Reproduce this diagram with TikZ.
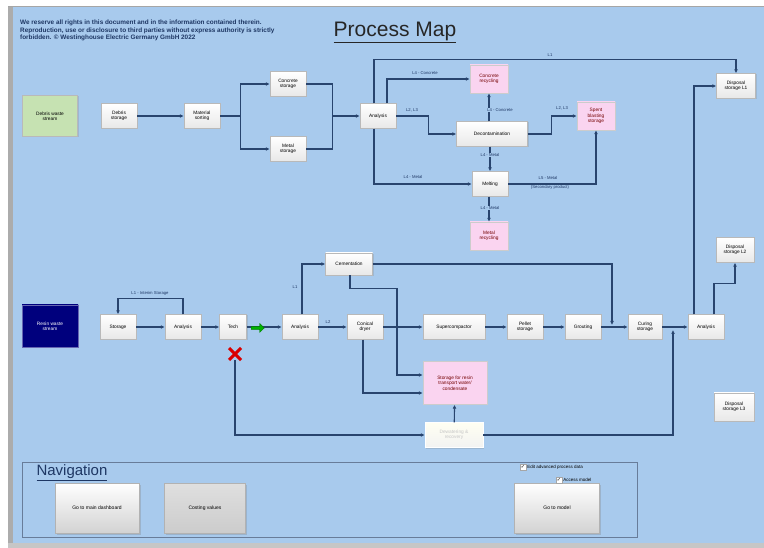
\documentclass[tikz,border=0pt]{standalone}
\usepackage{fontspec}
\setmainfont{Liberation Sans}
\newfontfamily\symfont{DejaVu Sans}
\usetikzlibrary{arrows.meta,shadows,shapes.arrows,shapes.misc}

\definecolor{mapbg}{RGB}{168,202,237}
\definecolor{mapline}{RGB}{40,68,110}
\definecolor{mappink}{RGB}{250,212,240}
\definecolor{mapgreen}{RGB}{198,226,178}
\definecolor{mapnavy}{RGB}{0,0,125}
\definecolor{maptext}{RGB}{30,55,100}

\newcommand\boxfont{\fontsize{4.8}{5.4}\selectfont}

\begin{document}
\begin{tikzpicture}[
  x=1pt, y=-1pt,
  every node/.style={font=\boxfont},
  box/.style={draw=gray!55, top color=white, bottom color=gray!18,
    minimum width=36pt, minimum height=25pt, inner sep=1pt, align=center,
    drop shadow={shadow xshift=1pt, shadow yshift=-1pt, opacity=0.25}},
  pinkbox/.style={box, top color=mappink, bottom color=mappink, draw=gray!40,
    text=red!45!black},
  flow/.style={draw=mapline, line width=1.1pt, -{Latex[length=4pt,width=3.8pt]}},
  link/.style={draw=mapline, line width=1.1pt},
  lbl/.style={font=\fontsize{4.2}{4.7}\selectfont, text=maptext, inner sep=0.5pt},
  button/.style={draw=gray!60, top color=white, bottom color=gray!35,
    minimum width=84pt, minimum height=50pt, font=\fontsize{5}{6}\selectfont,
    drop shadow={shadow xshift=1.5pt, shadow yshift=-1.5pt, opacity=0.3}},
  tickbox/.style={draw=gray!70, fill=white, minimum size=6pt, inner sep=0pt,
    font=\symfont\fontsize{5}{5}\selectfont},
]
\useasboundingbox (0,0) rectangle (764,548);
\fill[white] (0,0) rectangle (764,548);
\fill[mapbg] (8,6) rectangle (764,543);
\fill[gray!65] (8,6) rectangle (13,543);
\fill[gray!45] (8,543) rectangle (764,548);
\draw[gray!70, line width=0.8pt] (8,6) -- (764,6);

% header
\node[anchor=north west, align=left, text=maptext,
  font=\bfseries\fontsize{6.4}{7.2}\selectfont, inner sep=0pt] (note) at (20,20)
  {We reserve all rights in this document and in the information contained therein.\\
   Reproduction, use or disclosure to third parties without express authority is strictly\\
   forbidden. \textcopyright\ Westinghouse Electric Germany GmbH 2022};
\node[font=\fontsize{21}{23}\selectfont, text=black!85] (title) at (395,32)
  {\underline{Process Map}};

% debris waste stream
\node[box, top color=mapgreen, bottom color=mapgreen, minimum width=55pt,
  minimum height=41pt] (debris) at (50,116) {Debris waste\\stream};
\node[box] (dstor) at (119,116) {Debris\\storage};
\node[box] (msort) at (202,116) {Material\\sorting};
\node[box] (cstor) at (288,84) {Concrete\\storage};
\node[box] (mstor) at (288,149) {Metal\\storage};
\node[box] (ana1) at (378,116) {Analysis};
\node[pinkbox, minimum width=38pt, minimum height=28pt] (crec) at (489,79) {Concrete\\recycling};
\node[box, minimum width=71pt] (decon) at (492,134) {Decontamination};
\node[pinkbox, minimum width=38pt, minimum height=28pt] (spent) at (596,116) {Spent\\blasting\\storage};
\node[box] (melt) at (490,184) {Melting};
\node[pinkbox, minimum width=38pt, minimum height=28pt] (mrec) at (489,236) {Metal\\recycling};
\node[box, minimum width=39pt] (disp1) at (736,86) {Disposal\\storage L1};

\draw[flow] (dstor) -- (msort);
\draw[link] (msort.east) -- ++(20,0) coordinate (split);
\draw[flow] (split) |- (cstor.west);
\draw[flow] (split) |- (mstor.west);
\draw[link] (cstor.east) -- ++(26,0) coordinate (join) |- (mstor.east);
\draw[flow] (join |- ana1) -- (ana1);

\draw[flow] ([xshift=-4pt]ana1.north) -- ++(0,-44) -| (disp1.north);
\draw[flow] ([xshift=-4pt]ana1.south) |- (melt.west);
\draw[flow] ([xshift=9pt]ana1.north) |- (crec.west);
\draw[flow] (ana1.east) -- ++(32,0) |- (decon.west);
\draw[flow] (decon.north -| crec.south) -- (crec.south);
\draw[flow] (decon.east) -- ++(24,0) |- (spent.west);
\draw[flow] (decon.south -| melt.north) -- (melt.north);
\draw[flow] (melt.east) -| (spent.south);
\draw[flow] (melt.south -| mrec.north) -- (mrec.north);

\node[lbl] at (550,55) {L1};
\node[lbl] at (425,73) {L4 - Concrete};
\node[lbl] at (412,110) {L2, L3};
\node[lbl, fill=mapbg] at (500,110) {L4 - Concrete};
\node[lbl] at (562,108) {L2, L3};
\node[lbl, fill=mapbg] at (490,155) {L4 - Metal};
\node[lbl] at (413,177) {L4 - Metal};
\node[lbl] at (548,178) {L5 - Metal};
\node[lbl] at (550,187) {(Secondary product)};
\node[lbl, fill=mapbg] at (490,208) {L4 - Metal};

% resin waste stream
\node[box, top color=mapnavy, bottom color=mapnavy, draw=mapnavy!60, text=white,
  minimum width=56pt, minimum height=42pt] (resin) at (50,326) {Resin waste\\stream};
\node[box] (stor) at (118,327) {Storage};
\node[box] (ana2) at (183,327) {Analysis};
\node[box, minimum width=27pt] (tech) at (233,327) {Tech};
\node[box] (ana3) at (300,327) {Analysis};
\node[box, minimum width=47pt, minimum height=22pt] (cem) at (349,264) {Cementation};
\node[box] (cdry) at (365,327) {Conical\\dryer};
\node[box, minimum width=62pt] (supc) at (454,327) {Supercompactor};
\node[box] (pell) at (525,327) {Pellet\\storage};
\node[box] (grout) at (583,327) {Grouting};
\node[box, minimum width=34pt] (cure) at (645,327) {Curing\\storage};
\node[box] (ana4) at (706,327) {Analysis};
\node[pinkbox, minimum width=64pt, minimum height=43pt] (rstor) at (455,383)
  {Storage for resin\\transport water/\\condensate};
\node[box, top color=white!95!yellow, bottom color=white!90!gray, draw=white,
  text=gray!45, minimum width=58pt] (dew) at (454,435) {Dewatering \&\\recovery};
\node[box, minimum width=38pt] (disp2) at (735,250) {Disposal\\storage L2};
\node[box, minimum width=40pt, minimum height=28pt] (disp3) at (734,407) {Disposal\\storage L3};
\coordinate (cjoin) at (612,325);
\coordinate (djoin) at (673,330);

\draw[flow] (stor) -- (ana2);
\draw[flow] (ana2) -- (tech);
\draw[flow] (ana2.north) -- ++(0,-16) -| (stor.north);
\draw[flow] (tech) -- (ana3);
\node[single arrow, fill=green!70!black, draw=green!50!black, minimum height=13pt,
  minimum width=9pt, single arrow head extend=1.5pt, inner sep=0.5pt] (go) at (257,328) {};
\node[cross out, draw=red!85!black, line width=3pt, minimum size=9pt] (stop) at (235,354) {};
\draw[flow] (stop.south) |- (dew.west);
\draw[flow] ([xshift=2pt]ana3.north) |- (cem.west);
\draw[flow] (ana3) -- (cdry);
\draw[flow] ([xshift=1pt]cem.south) -- ++(0,13) -- ++(47,0) |- ([yshift=8pt]rstor.west);
\draw[flow] ([xshift=-2pt]cdry.south) |- ([yshift=-10pt]rstor.west);
\draw[flow] (cdry) -- (supc);
\draw[flow] (supc) -- (pell);
\draw[flow] (pell) -- (grout);
\draw[flow] (grout) -- (cure);
\draw[flow] (cem.east) -| (cjoin);
\draw[flow] (cure) -- (ana4);
\draw[flow] (dew.east) -| (djoin);
\draw[flow] (dew) -- (rstor);
\draw[flow] ([xshift=-12pt]ana4.north) |- (disp1.west);
\draw[flow] ([xshift=8pt]ana4.north) -- ++(0,-31) -| (disp2.south);

\node[lbl] at (150,293) {L1 - Interim Storage};
\node[lbl] at (295,287) {L1};
\node[lbl] at (328,322) {L2};

% navigation
\draw[draw=mapline!70, line width=1pt] (22,462) rectangle (637,537);
\node[font=\fontsize{15}{17}\selectfont, text=maptext] (navtitle) at (72,473)
  {\underline{Navigation}};
\node[button] (btnmain) at (97,508) {Go to main dashboard};
\node[button, top color=gray!25, bottom color=gray!40, minimum width=81pt] (btncost)
  at (205,508) {Costing values};
\node[button, minimum width=85pt] (btnmodel) at (557,508) {Go to model};
\node[tickbox] (chkedit) at (523,467) {✓};
\node[anchor=west, font=\fontsize{4.5}{5}\selectfont, inner sep=1pt] at (chkedit.east)
  {Edit advanced process data};
\node[tickbox] (chkaccess) at (559,480) {✓};
\node[anchor=west, font=\fontsize{4.5}{5}\selectfont, inner sep=1pt] at (chkaccess.east)
  {Access model};
\end{tikzpicture}
\end{document}
